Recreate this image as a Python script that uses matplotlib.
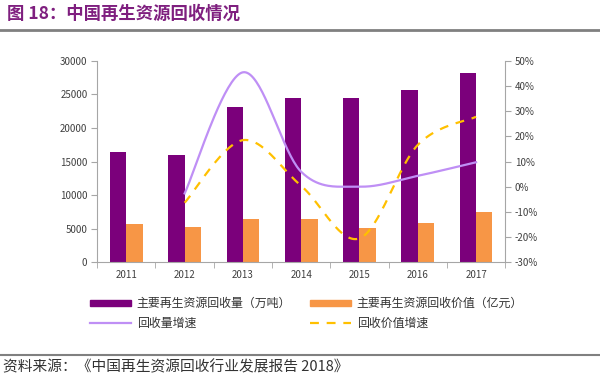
import numpy as np
import matplotlib
matplotlib.use('Agg')
import matplotlib.pyplot as plt
from matplotlib.patches import Patch
from matplotlib.lines import Line2D
from matplotlib.ticker import FuncFormatter

plt.rcParams['font.family'] = ['Noto Sans CJK SC', 'DejaVu Sans']

# data
years = ['2011', '2012', '2013', '2014', '2015', '2016', '2017']
volume = [16400, 16000, 23200, 24450, 24500, 25600, 28200]     # 万吨
value = [5700, 5250, 6400, 6400, 5050, 5800, 7450]             # 亿元
volume_growth = [None, -2.7, 45.5, 5.9, 0.0, 4.3, 9.7]         # %
value_growth = [None, -6.4, 18.5, 0.3, -20.6, 16.6, 27.8]      # %

purple = '#7B007B'
orange = '#F79646'
lilac = '#BF8FF5'
gold = '#FFC000'
gray = '#A6A6A6'


def smooth(xs, ys, n=40):
    # excel-like smoothed line (bezier with 1/6 tangents)
    pts = np.column_stack([xs, ys]).astype(float)
    ext = np.vstack([pts[0], pts, pts[-1]])
    out = []
    for i in range(1, len(ext) - 2):
        p0, p3 = ext[i], ext[i + 1]
        c1 = p0 + (ext[i + 1] - ext[i - 1]) / 6
        c2 = p3 - (ext[i + 2] - ext[i]) / 6
        t = np.linspace(0, 1, n)[:, None]
        seg = (1 - t) ** 3 * p0 + 3 * (1 - t) ** 2 * t * c1 + 3 * (1 - t) * t ** 2 * c2 + t ** 3 * p3
        out.append(seg if i == 1 else seg[1:])
    out = np.vstack(out)
    return out[:, 0], out[:, 1]


fig = plt.figure(figsize=(6, 3.8), dpi=100)
ax = fig.add_axes([0.162, 0.3105, 0.68, 0.529])
ax2 = ax.twinx()

x = np.arange(len(years))
w = 0.28
ax.bar(x - w / 2, volume, w, color=purple, zorder=2)
ax.bar(x + w / 2, value, w, color=orange, zorder=2)

ax.set_xlim(-0.5, len(years) - 0.5)
ax.set_ylim(0, 30000)
ax.set_yticks(range(0, 30001, 5000))
ax.set_xticks(x)
ax.set_xticklabels(years)
ax.set_xticks(np.arange(-0.5, len(years), 1), minor=True)
ax.tick_params(axis='x', which='major', length=0, labelsize=7, colors='#404040', pad=6)
ax.tick_params(axis='x', which='minor', length=4, color=gray)
ax.tick_params(axis='y', length=4, color=gray, labelsize=7, labelcolor='#404040', pad=3)

gx = [i for i, v in enumerate(volume_growth) if v is not None]
sx, sy = smooth(gx, [volume_growth[i] for i in gx])
ax2.plot(sx, sy, color=lilac, lw=1.6, zorder=3)
sx, sy = smooth(gx, [value_growth[i] for i in gx])
ax2.plot(sx, sy, color=gold, lw=1.6, ls=(0, (4, 3.5)), zorder=3)

ax2.set_ylim(-30, 50)
ax2.set_yticks(range(-30, 51, 10))
ax2.yaxis.set_major_formatter(FuncFormatter(lambda v, p: '%d%%' % v))
ax2.tick_params(axis='y', length=4, color=gray, labelsize=7, labelcolor='#404040', pad=3)

for a in (ax, ax2):
    a.spines['top'].set_visible(False)
    for s in ('left', 'right', 'bottom'):
        a.spines[s].set_color(gray)
        a.spines[s].set_linewidth(0.8)
ax.spines['right'].set_visible(False)
ax2.spines['left'].set_visible(False)
ax2.spines['bottom'].set_visible(False)

# ncol=2 fills column by column
handles = [Patch(color=purple), Line2D([], [], color=lilac, lw=1.6),
           Patch(color=orange), Line2D([], [], color=gold, lw=1.6, ls=(0, (4, 3.5)))]
labels = ['主要再生资源回收量（万吨）', '回收量增速', '主要再生资源回收价值（亿元）', '回收价值增速']
fig.legend(handles, labels, ncol=2, loc='upper left', bbox_to_anchor=(0.132, 0.247),
           frameon=False, fontsize=8.6, handlelength=3.4, handleheight=0.42,
           handletextpad=0.5, columnspacing=1.6, labelspacing=0.6, labelcolor='#333333')

# title and source
fig.text(0.012, 0.963, '图 18：中国再生资源回收情况', fontsize=12.5, fontweight='bold',
         color='#7F1F7F', va='center', ha='left')
fig.add_artist(Line2D([0, 1], [0.921, 0.921], color='#808080', lw=2, transform=fig.transFigure))
fig.add_artist(Line2D([0, 1], [0.066, 0.066], color='#808080', lw=1.5, transform=fig.transFigure))
fig.text(0.005, 0.034, '资料来源：《中国再生资源回收行业发展报告 2018》', fontsize=10.6,
         color='#333333', va='center', ha='left')

fig.savefig('out.png', dpi=100)
